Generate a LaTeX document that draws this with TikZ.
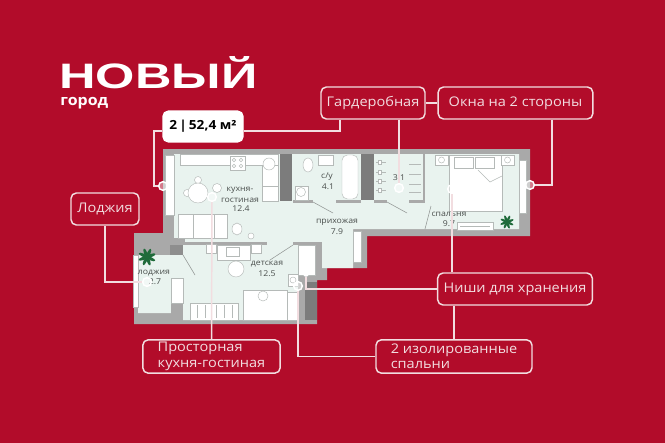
\documentclass[tikz,border=0pt]{standalone}
\usepackage{fontspec}
\setmainfont[FakeStretch=1.09]{Open Sans}
\newfontfamily\titlefont[FakeStretch=1.43]{Liberation Sans}
\definecolor{brandred}{HTML}{B20C2A}
\definecolor{wallgray}{HTML}{A9A9A9}
\definecolor{walldark}{HTML}{7C7C7C}
\definecolor{floorgreen}{HTML}{E9F3EF}
\definecolor{calloutline}{HTML}{F2DDE0}
\definecolor{furnline}{HTML}{B5BAB8}
\definecolor{roomtext}{HTML}{4A4F4D}
\definecolor{plantgreen}{HTML}{1F6B3A}
\tikzset{
  callout/.style={draw=calloutline, line width=1.1pt, rounded corners=4pt, fill=brandred, text=calloutline, font=\fontsize{10}{11.5}\selectfont, inner sep=0pt},
  link/.style={draw=calloutline, line width=1.1pt},
  ring/.style={circle, draw=white, line width=1.1pt, fill=white, fill opacity=0.45, minimum size=6.5pt, inner sep=0pt},
  room/.style={text=roomtext, font=\fontsize{6}{7.5}\selectfont, inner sep=0pt},
  furn/.style={draw=furnline, line width=0.35pt, fill=white},
  swing/.style={draw=furnline!80!black, line width=0.4pt}
}
\begin{document}
\begin{tikzpicture}[x=0.75pt, y=-0.75pt]
  \useasboundingbox[fill=brandred] (0,0) rectangle (665,443);
  % plan
  \fill[wallgray] (163,149) -- (530,149) -- (530,236) -- (367,236) -- (367,268) -- (327,268) -- (327,280) -- (317,280) -- (317,324) -- (134,324) -- (134,233) -- (163,233) -- cycle;
  \fill[floorgreen] (174,154) -- (519,154) -- (519,229) -- (353,229) -- (353,268) -- (322,268) -- (322,245) -- (298,245) -- (298,320) -- (183,320) -- (183,303) -- (171,303) -- (171,313) -- (138,313) -- (138,255) -- (183,255) -- (183,245) -- (174,238) -- cycle;
  \fill[wallgray] (185,242) rectangle (267,245);
  \fill[wallgray] (174,238) rectangle (185,245);
  \fill[wallgray] (293,242) rectangle (322,245);
  \fill[wallgray] (315,242) rectangle (322,265);
  \fill[walldark!60!wallgray] (170,245) rectangle (183,255);
  \fill[walldark] (280,154) rectangle (292,201);
  \fill[walldark] (361,154) rectangle (374,200);
  \fill[wallgray] (293,200) rectangle (313,203);
  \fill[wallgray] (336,200) rectangle (361,203);
  \fill[wallgray] (374,200) rectangle (387,203);
  \fill[wallgray] (409,200) rectangle (425,203);
  \fill[wallgray] (423,154) rectangle (425,203);
  \fill[wallgray] (298,275) rectangle (317,324);
  \fill[walldark] (305,282) rectangle (317,320);
  \fill[wallgray] (171,303) rectangle (183,323);
  % windows
  \draw[furn] (165,155) rectangle (174,215);
  \draw[furn] (519,160) rectangle (526,213);
  \draw[furn] (133,255) rectangle (138,307);
  \draw[furn] (171,278) rectangle (183,303);
  % door swings
  \draw[swing] (313,202) -- (333,213);
  \draw[swing] (387,202) -- (407,213);
  \draw[swing] (431,206) -- (425,229);
  \draw[swing] (293,245) -- (270,260);
  \draw[swing] (183,255) -- (195,275);
  % kitchen
  \draw[furn] (180,154) rectangle (278,165);
  \draw[furn] (262,165) rectangle (278,201);
  \draw[furn] (262,186) -- (278,186);
  \draw[furn] (230,156) rectangle (245,170);
  \foreach \xx in {234,241} {
    \draw[furn] (\xx,160) circle (1.8);
    \draw[furn] (\xx,166) circle (1.8);
  }
  \draw[furn] (269,164) circle (6);
  \draw[furn] (198,180) circle (3.5);
  \draw[furn] (187,193) circle (3.5);
  \draw[furn] (217,188) circle (4.5);
  \draw[furn] (198,193) circle (10);
  \draw[furn] (178,214) rectangle (227,238);
  \draw[furn] (193,214) -- (193,238);
  \draw[furn] (214,214) -- (214,238);
  \draw[furn] (251,236) circle (3);
  \draw[furn] (237,229) ellipse (5 and 6);
  % bathroom
  \draw[furn] (308,165) ellipse (5 and 7);
  \draw[furn] (318,155) rectangle (333,165);
  \draw[furn] (295,186) rectangle (308,200);
  \draw[furn] (301,192) circle (4.5);
  \draw[furn, rounded corners=4pt] (342,155) rectangle (358,199);
  % wardrobe
  \foreach \yy in {162,172,181,190} {
    \draw[furn] (376,\yy) -- (386,\yy);
    \draw[furn] (378,\yy-2) rectangle (381,\yy+2);
  }
  \foreach \yy in {164,174,184,192} {
    \draw[furn] (409,\yy) -- (421,\yy);
  }
  % bedroom
  \draw[furn] (449,155) rectangle (502,211);
  \draw[furn] (454,157) rectangle (473,168);
  \draw[furn] (475,157) rectangle (494,168);
  \draw[furn] (478,170) -- (490,182) -- (502,176);
  \draw[furn] (435,155) rectangle (448,165);
  \draw[furn] (441.5,160) circle (3);
  \draw[furn] (501,155) rectangle (514,165);
  \draw[furn] (507.5,160) circle (3);
  \draw[furn] (457,222) rectangle (493,230);
  \draw[furn] (460,226) -- (490,226);
  \foreach \aa in {20,65,...,360} {
    \fill[plantgreen, shift={(507,222)}, rotate=\aa] (3.5,0) ellipse (3.5 and 1.2);
    \fill[plantgreen, shift={(147,257)}, rotate=\aa] (4.5,0) ellipse (4.5 and 1.6);
  }
  % kids room
  \draw[furn] (298,245) rectangle (315,275);
  \draw[furn] (217,245) rectangle (250,260);
  \draw[furn] (206,244) rectangle (216,253);
  \draw[furn] (251,244) rectangle (261,253);
  \draw[furn] (226,247) rectangle (239,256);
  \draw[furn] (236,269) circle (8);
  \draw[furn] (243,290) rectangle (287,320);
  \draw[furn] (287,292) rectangle (298,320);
  \draw[furn] (263,296) circle (5);
  \draw[furn] (288,274) rectangle (298,286);
  \draw[furn] (293,280) circle (3);
  \draw[furn] (190,303) rectangle (238,320);
  \foreach \xx in {197,205,216,224,232} {
    \draw[furn] (\xx,305) -- (\xx,318);
  }
  \draw[furn] (353,231) rectangle (361,262);
  % room labels
  \node[room, align=center] (kitchenname) at (240,195) {кухня-\\[1pt]гостиная};
  \node[room] (kitchenarea) at (241,209) {12.4};
  \node[room] (bathname) at (327,177) {с/у};
  \node[room] (batharea) at (328,187) {4.1};
  \node[room] (hallname) at (337,222) {прихожая};
  \node[room] (hallarea) at (337,232) {7.9};
  \node[room] (wardrobearea) at (399,178) {3.1};
  \node[room] (bedname) at (449,214) {спальня};
  \node[room] (bedarea) at (449,224) {9.7};
  \node[room] (kidsname) at (267,264) {детская};
  \node[room] (kidsarea) at (267,274) {12.5};
  \node[room] (loggianame) at (154,273) {лоджия};
  \node[room] (loggiaarea) at (155,282) {2.7};
  % title
  \node[text=white, inner sep=0pt, anchor=base] (brand) at (158.5,88) {\titlefont\bfseries\fontsize{26.5}{28}\selectfont НОВЫЙ};
  \node[text=white, inner sep=0pt, anchor=base west] (city) at (60,105) {\bfseries\fontsize{11}{12}\selectfont город};
  % callouts
  \node[ring] (dotliving) at (163,186) {};
  \node[ring] (dotwindow) at (530,185) {};
  \node[ring] (dotwardrobe) at (399,188) {};
  \node[ring] (dotniche) at (452,189) {};
  \node[ring] (dotloggia) at (147,282) {};
  \node[ring] (dotkitchen) at (212,197) {};
  \node[ring] (dotkids) at (298,286) {};
  \node[ring, minimum size=3pt] (dotstorage) at (306,274) {};
  \node[callout, fill=white, draw=white, text=black, minimum width=60pt, minimum height=23pt, font=\fontsize{9.4}{12}\bfseries\selectfont] (sizelabel) at (203,126.5) {2\,|\,52,4 м²};
  \node[callout, minimum width=78pt, minimum height=24pt] (boxwardrobe) at (373,103) {Гардеробная};
  \node[callout, minimum width=116pt, minimum height=24pt] (boxwindows) at (515.5,103) {Окна на 2 стороны};
  \node[callout, minimum width=51pt, minimum height=24pt] (boxloggia) at (105,209) {Лоджия};
  \node[callout, minimum width=116pt, minimum height=24pt] (boxniche) at (515,289) {Ниши для хранения};
  \node[callout, minimum width=103pt, minimum height=25pt, align=left] (boxkitchen) at (211.5,356.5) {Просторная\\кухня-гостиная};
  \node[callout, minimum width=117pt, minimum height=25pt, align=left] (boxkids) at (454,356.5) {2 изолированные\\спальни};
  \coordinate (kneesize) at (340,131);
  \coordinate (kneeliving) at (154,131);
  \coordinate (kneewindow) at (552,185);
  \draw[link] (sizelabel.east |- kneesize) -- (kneesize) -- (kneesize |- boxwardrobe.south);
  \draw[link] (sizelabel.west |- kneeliving) -- (kneeliving) |- (dotliving);
  \draw[link] (boxwardrobe) -- (boxwindows);
  \draw[link] (boxwardrobe.south -| dotwardrobe) -- (dotwardrobe);
  \draw[link] (kneewindow |- boxwindows.south) -- (kneewindow) -- (dotwindow);
  \draw[link] (boxloggia) |- (dotloggia);
  \draw[link] (boxkitchen) -- (dotkitchen);
  \draw[link] (boxniche.north -| dotniche) -- (dotniche);
  \draw[link] (boxniche.west) -| (dotstorage);
  \draw[link] (boxkids.west) -| (dotkids);
  \draw[link] (boxkids.north) -- (boxniche.south -| boxkids.north);
\end{tikzpicture}
\end{document}
